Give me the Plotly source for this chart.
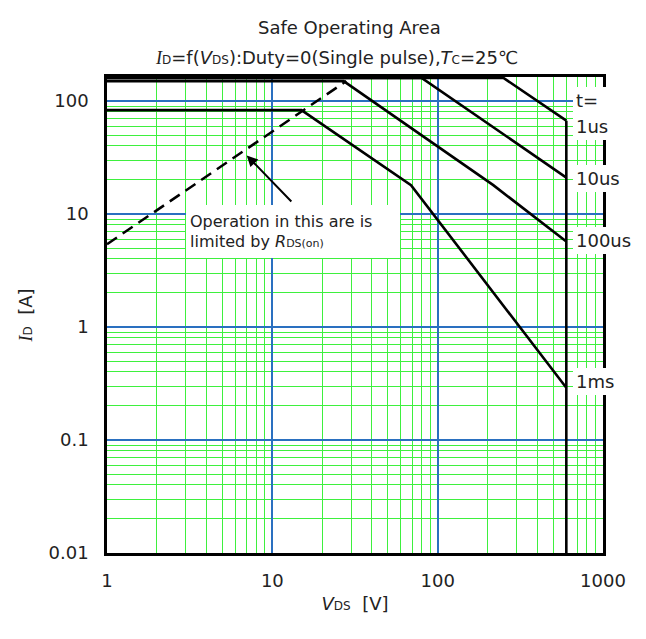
import math
import plotly.graph_objects as go

# ---------------- data ----------------
x_ticks = [1, 10, 100, 1000]
x_tick_text = ["1", "10", "100", "1000"]
y_ticks = [0.01, 0.1, 1, 10, 100]
y_tick_text = ["0.01", "0.1", "1", "10", "100"]

rds_v = [1, 28]
rds_i = [5.4, 150]

t1us_v = [1, 250, 600]
t1us_i = [160, 160, 67]
t10us_v = [1, 80, 600]
t10us_i = [160, 160, 21]
t100us_v = [1, 27, 217, 600]
t100us_i = [150, 150, 18, 5.7]
t1ms_v = [1, 15, 69, 600]
t1ms_i = [83, 83, 18, 0.29]
vmax_v = [600, 600]
vmax_i = [67, 0.01]

pulse_labels = ["t=", "1us", "10us", "100us", "1ms"]
pulse_label_i = [100, 59, 20.4, 5.8, 0.33]

x_range = [1, 1000]
y_range = [0.01, 163]

# ---------------- figure ----------------
BLUE = "#2a70c0"
GREEN = "#3ef03e"
FONT = "DejaVu Sans"
TXT = "#222"

fig = go.Figure()

curve_line = dict(color="black", width=2.6)
fig.add_trace(go.Scatter(x=rds_v, y=rds_i, mode="lines",
                         line=dict(color="black", width=2.5, dash="12px,7px")))
for v, i in [(t1us_v, t1us_i), (t10us_v, t10us_i), (t100us_v, t100us_i),
             (t1ms_v, t1ms_i), (vmax_v, vmax_i)]:
    fig.add_trace(go.Scatter(x=v, y=i, mode="lines", line=curve_line))

annotations = []
# titles
annotations.append(dict(xref="paper", yref="paper", x=0.488, y=1.130,
                        text="Safe Operating Area", showarrow=False,
                        font=dict(size=18, family=FONT, color=TXT)))
sub = '<span style="font-size:12px">'
serif_i = '<span style="font-family:Liberation Serif"><i>I</i></span>'
annotations.append(dict(xref="paper", yref="paper", x=0.462, y=1.067,
                        text=serif_i + sub + "D</span>=f(<i>V</i>" + sub + "DS</span>):Duty=0(Single pulse),<i>T</i>" + sub + "C</span>=25℃",
                        showarrow=False, font=dict(size=18, family=FONT, color=TXT)))

# right labels
for lab, yv in zip(pulse_labels, pulse_label_i):
    annotations.append(dict(xref="paper", yref="y", x=0.9395, y=math.log10(yv),
                            xanchor="left", yanchor="middle", text=lab, showarrow=False,
                            width=56, align="left",
                            bgcolor="white", borderpad=3, borderwidth=0,
                            font=dict(size=18, family=FONT, color=TXT)))

# R_DS(on) note
annotations.append(dict(xref="x", yref="y", x=math.log10(3.0), y=math.log10(12.0),
                        xanchor="left", yanchor="top", align="left",
                        width=206, height=45, borderpad=4, borderwidth=0, bgcolor="white",
                        text="Operation in this are is<br>limited by <i>R</i>" +
                             '<span style="font-size:11px">DS(on)</span>',
                        showarrow=False, font=dict(size=16, family=FONT, color=TXT)))
annotations.append(dict(xref="x", yref="y", x=math.log10(7.0), y=math.log10(33.0),
                        axref="x", ayref="y", ax=math.log10(13.3), ay=math.log10(12.5),
                        text="", showarrow=True, arrowhead=2, arrowsize=1.1,
                        arrowwidth=2, arrowcolor="black"))

axis_common = dict(
    type="log", showline=True, mirror=True, linecolor="black", linewidth=2.5,
    showgrid=True, gridcolor=BLUE, gridwidth=1.5, zeroline=False,
    ticks="", tickfont=dict(size=18, family=FONT, color=TXT),
    minor=dict(dtick="D1", showgrid=True, gridcolor=GREEN, gridwidth=1, ticks=""),
)

fig.update_layout(
    width=646, height=639,
    margin=dict(l=107, r=43, t=77, b=86),
    paper_bgcolor="white", plot_bgcolor="white",
    showlegend=False,
    font=dict(family=FONT, size=18, color=TXT),
    annotations=annotations,
    xaxis=dict(axis_common, range=[math.log10(x_range[0]), math.log10(x_range[1])],
               tickmode="array", tickvals=x_ticks, ticktext=x_tick_text,
               ticklabelstandoff=10,
               title=dict(text="<i>V</i>" + sub + "DS</span>  [V]", standoff=8,
                          font=dict(size=18, family=FONT, color=TXT))),
    yaxis=dict(axis_common, range=[math.log10(y_range[0]), math.log10(y_range[1])],
               tickmode="array", tickvals=y_ticks, ticktext=y_tick_text,
               ticklabelstandoff=12,
               title=dict(text=serif_i + sub + "D</span>  [A]", standoff=12,
                          font=dict(size=18, family=FONT, color=TXT))),
)

fig.write_html("out.html")
